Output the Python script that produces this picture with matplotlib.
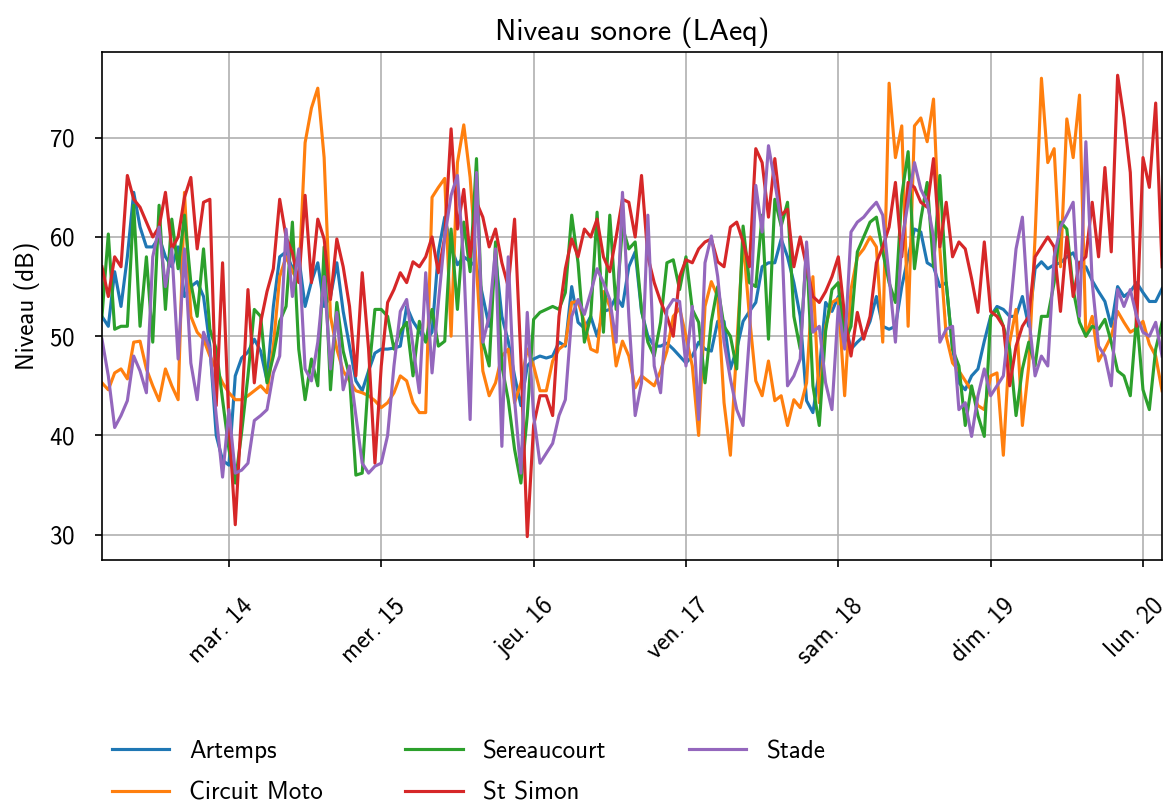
import matplotlib
matplotlib.use('Agg')
import matplotlib.pyplot as plt
import matplotlib.transforms as mtrans
import pandas as pd

plt.rcParams['font.family'] = ['cmss10', 'DejaVu Sans']
plt.rcParams['font.size'] = 12
plt.rcParams['axes.unicode_minus'] = False
plt.rcParams['axes.formatter.use_mathtext'] = True

# hourly LAeq, 13/03 04:00 -> 20/03 03:00
start = '2023-03-13 04:00'

artemps = [52, 51, 56.5, 53, 58, 64.5, 61, 59, 59, 60, 58, 57, 59, 54, 55, 55.5, 54, 49, 40, 37.5, 37, 46,
           47.8, 48.4, 49.7, 48.5, 45.5, 53, 58, 58.5, 56.8, 58, 53, 55.5, 57.4, 53, 54, 57.4, 52.5, 49, 45.5, 44.5,
           46.5, 48.3, 48.7, 48.7, 48.8, 49, 53, 51.5, 50.5, 49.5, 50.4, 58.5, 62, 59, 57.2, 58, 57.5, 57, 54, 51, 58,
           52, 49.5, 46, 43, 47, 47.7, 48, 47.8, 48, 49.4, 49, 55, 51.4, 50.8, 52, 50, 52.5, 52.7, 54, 53,
           57, 58.5, 52.5, 50, 49, 49, 49.3, 48.7, 48, 47.3, 48, 49.4, 48.7, 48.5, 51.5, 51.5, 46.7, 48.7, 51.5, 52.5, 53.4,
           57, 57.4, 57.4, 59.8, 58, 55.4, 52, 43.5, 42.3, 46.5, 53.4, 52.5, 54, 51.5, 48.7, 49.4, 50, 51.5, 54, 51,
           50.7, 51, 55, 58, 60.8, 60.5, 57.4, 57, 55, 55.4, 48.7, 45.3, 44.6, 46, 46.7, 49.5, 52, 53, 52.7, 52, 52,
           54, 51, 56.8, 57.5, 56.8, 57.2, 57.4, 58, 58.4, 57, 57, 55.6, 54.5, 53.5, 51, 55, 54, 54.5, 55.4, 54.4, 53.5, 53.5, 54.8]

circuit_moto = [45.3, 44.6, 46.3, 46.7, 45.7, 49.4, 49.5, 46.7, 45, 43.5, 46.7, 45, 43.6, 64.5, 52, 50.4, 49.7, 48, 46.7, 45.3, 44.3, 43.6,
                43.6, 44, 44.5, 45, 44.3, 49, 56, 58, 56.5, 55.5, 69.5, 73, 75, 68, 52, 48.7, 46.5, 45.5, 44.5, 44.3,
                44, 43.5, 42.8, 43.3, 44.3, 46, 45.5, 43.3, 42.3, 42.3, 64, 65, 65.9, 50, 67.5, 71.3, 66, 57, 46.5, 44, 45.3,
                48, 48.7, 43.3, 45.3, 48.7, 47, 44.5, 44.5, 47.5, 48.7, 49.2, 53.4, 53.5, 51.4, 48.7, 48.4, 54.5, 53, 47, 49.5,
                48, 44.8, 46, 45.5, 45, 46.5, 48.5, 52, 52.8, 50, 47, 40, 53, 55.5, 54, 43.3, 38, 49, 59.8, 52, 45.5,
                44, 47.5, 43.5, 44, 41, 43.6, 42.8, 45.3, 56, 43.3, 51, 53.4, 53.8, 44, 54.7, 58, 58.8, 60, 59, 49.4,
                75.5, 68, 71.2, 51, 71.2, 72, 69.6, 73.9, 58.8, 50, 47.3, 46.5, 45.5, 44.5, 43, 42.6, 46, 46.3, 38, 49.4, 52.7,
                41, 47, 60, 76, 67.5, 68.9, 57, 71.9, 68, 74.3, 50, 52, 47.5, 48.7, 50, 52.5, 51.4, 50.4, 50.8, 51.5, 49.2, 48, 44.5]

sereaucourt = [52, 60.3, 50.7, 51, 51, 63.2, 51, 58, 49.4, 63.2, 52.7, 61.8, 56.8, 62.2, 55.4, 52, 58.8, 50.7, 48.7, 43.6, 38.6, 35.2,
               40.3, 46, 52.7, 52, 45.3, 48, 51.5, 53, 61.5, 48.7, 43.6, 47.7, 45, 59, 44.6, 53.4, 48.5, 46, 36, 36.2,
               46, 52.7, 52.7, 52, 48.7, 50.5, 51.4, 46, 51.5, 49.4, 52.7, 49, 49.5, 60.8, 52.7, 61.5, 56.5, 67.9, 49.4, 47, 59.5,
               47, 43.6, 38.6, 35.2, 42, 51.7, 52.4, 52.7, 53, 52.7, 54.4, 62.2, 57.4, 49.4, 52, 62.5, 50.4, 62.2, 52.7, 61,
               58.8, 59.5, 52.7, 49.4, 48, 51.4, 57.4, 57.7, 54.7, 58, 52.7, 51.4, 45.3, 51.5, 55, 51, 50, 46.7, 61.1, 55.4, 55,
               62.2, 49.7, 63.8, 61.1, 63.5, 52, 48.7, 58.8, 45, 41, 50.5, 54.7, 55.4, 49.4, 51, 58.5, 60, 61.5, 62, 58.5,
               55.4, 53.4, 64.2, 68.6, 56.8, 61.8, 65.5, 57, 66.2, 55.4, 48.7, 47, 41, 45, 42, 39.9, 52, 52.7, 51, 48.7, 42,
               46.7, 49.4, 47, 52, 52, 55.4, 61.5, 60.8, 54.7, 51.4, 50, 51, 50.7, 51.7, 49.4, 46.5, 46, 44, 52, 44.6, 42.6, 48.7, 51.4]

st_simon = [57, 54, 58, 57, 66.2, 63.8, 63, 61.5, 60, 61, 64.5, 58.8, 60, 64, 66, 58.8, 63.5, 63.8, 43, 57.4, 41.3, 31,
            42.5, 54.7, 45.3, 51.4, 54.5, 56.8, 63.8, 60, 58.4, 55.4, 64.2, 55.4, 61.8, 59.8, 53.7, 59.8, 57, 53, 46, 56.4,
            48.7, 37.2, 47, 53.4, 54.7, 56.4, 55.4, 57.5, 57, 58, 60, 56.4, 60, 70.9, 60.8, 64.8, 58, 63.5, 62, 59, 60.8,
            57.4, 55, 61.8, 47.7, 29.8, 41, 44, 44, 42, 52, 56.8, 59.8, 58, 60.8, 60, 61.8, 58, 56.5, 60, 63.8,
            63.5, 60, 66.2, 58, 55.4, 53.5, 52, 50, 56, 57.7, 57.4, 58.8, 59.5, 59.8, 57.5, 57, 61, 61.5, 59.5, 57, 68.9,
            67.5, 62, 67.9, 62.2, 62.8, 57, 60, 57, 54, 53.4, 54.5, 56, 58, 52, 48, 52.4, 49.7, 52, 57.4, 59,
            61, 65.5, 58, 65.5, 65, 63.5, 63, 67.9, 59, 63.5, 58, 59.5, 58.8, 55.8, 52.4, 59.5, 52.5, 52, 51, 45, 49,
            51, 52, 58, 59, 60, 59, 52.5, 60, 54, 57.4, 58, 63.5, 58, 67, 58.5, 76.3, 72, 66.5, 51, 68, 65, 73.5, 57]

stade = [49.7, 46, 40.8, 42, 43.5, 48, 46.5, 44.3, 58, 61, 55, 58.8, 47.7, 58.8, 47.3, 43.6, 50.4, 48.7, 42, 35.8, 42.6, 36.2,
         36.5, 37.2, 41.5, 42, 42.6, 46.3, 48, 60.8, 54, 58.8, 46.7, 45.5, 49.4, 56, 46.7, 52.4, 44.6, 47, 42, 37.2,
         36.2, 36.9, 37.2, 40, 47, 52.5, 53.7, 49, 44.3, 56.4, 46.3, 53.4, 60, 64.2, 66.2, 57.4, 41.6, 66.5, 49.4, 52, 58.8,
         38.9, 58, 43.6, 36.2, 52.4, 42, 37.2, 38.2, 39.2, 42, 43.6, 52, 53.7, 52.2, 54.4, 56.8, 55.4, 53.7, 49.4, 64.5,
         52, 42, 45.3, 62.2, 47, 44.3, 52.7, 53.7, 53.5, 47, 53, 41.6, 57.4, 60.1, 56, 49.4, 45.7, 42.6, 41, 50, 65.2,
         60.5, 69.2, 65.5, 61.5, 45, 46, 47.7, 59.5, 50.4, 51, 45.3, 42.6, 53, 48.7, 60.5, 61.5, 62, 62.8, 63.5, 62.2,
         56, 49.4, 59.5, 63.5, 67.5, 64.8, 63.5, 60, 49.4, 50.7, 51, 42.6, 43.3, 39.9, 44, 46.7, 44, 45, 46, 52, 58.8,
         62, 52, 46, 48, 47, 58, 61, 62.2, 63.5, 52, 69.6, 55.4, 49, 48, 45, 54.7, 53, 54.7, 52, 50.4, 50, 51.4, 48]

stations = ['Artemps', 'Circuit Moto', 'Sereaucourt', 'St Simon', 'Stade']
series = [artemps, circuit_moto, sereaucourt, st_simon, stade]
jours = ['lun.', 'mar.', 'mer.', 'jeu.', 'ven.', 'sam.', 'dim.']

times = pd.date_range(start, periods=len(artemps), freq='h')
df = pd.DataFrame(dict(zip(stations, series)), index=times)

fig, ax = plt.subplots(figsize=(1172 / 150, 803 / 150), dpi=150)
fig.subplots_adjust(left=0.087, right=0.9915, top=0.935, bottom=0.303)

for name in stations:
    ax.plot(df.index, df[name], label=name, lw=1.5)

ax.set_xlim(df.index[0], df.index[-1])
days = pd.date_range(df.index[0].normalize() + pd.Timedelta('1D'), df.index[-1], freq='D')
ax.set_xticks(days, ['%s %d' % (jours[d.weekday()], d.day) for d in days])
ax.tick_params(axis='x', pad=13, labelrotation=45)
ax.tick_params(axis='y', pad=9.6)
shift = mtrans.ScaledTranslation(-8 / 150, 0, fig.dpi_scale_trans)
for lab in ax.get_xticklabels():
    lab.set_transform(lab.get_transform() + shift)

ax.grid(True, color='#b0b0b0', lw=0.8)
ax.set_ylabel('Niveau (dB)')
ax.set_title('Niveau sonore (LAeq)')
ax.legend(loc='upper left', bbox_to_anchor=(-0.012, -0.311), ncol=3, frameon=False,
          handlelength=2.3, columnspacing=3.3, labelspacing=0.75)

fig.savefig('out.png', dpi=150)
